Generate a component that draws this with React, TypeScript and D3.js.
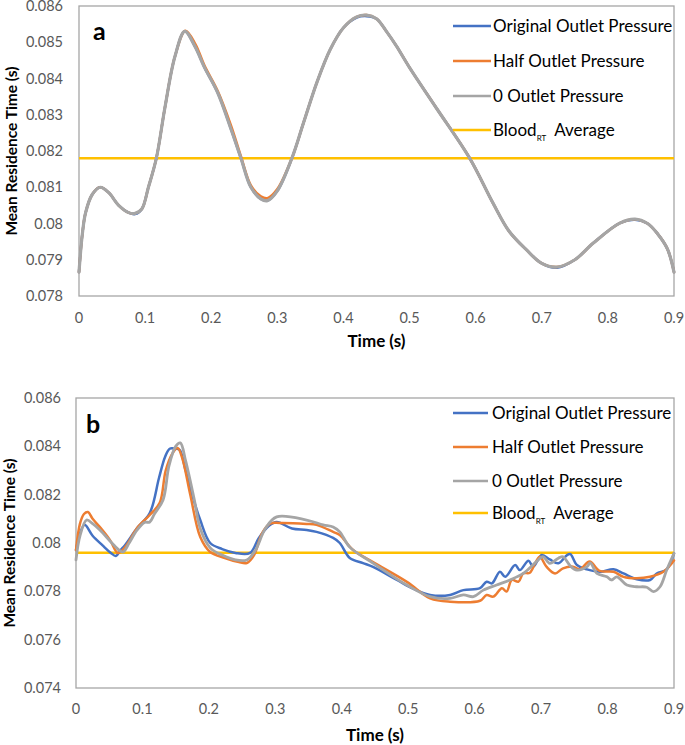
import React from 'react';
import * as d3 from 'd3';

type Pt = [number, number];

const xTicks = [0, 0.1, 0.2, 0.3, 0.4, 0.5, 0.6, 0.7, 0.8, 0.9];
const yTicksA = [0.078, 0.079, 0.08, 0.081, 0.082, 0.083, 0.084, 0.085, 0.086];
const yTicksB = [0.074, 0.076, 0.078, 0.08, 0.082, 0.084, 0.086];
const seriesNames = ['Original Outlet Pressure', 'Half Outlet Pressure', '0 Outlet Pressure'];
const seriesColors = ['#4472C4', '#ED7D31', '#A5A5A5'];
const avgName = 'Blood';
const avgSub = 'RT';
const avgSuffix = 'Average';
const avgColor = '#FFC000';
const avgA = 0.0818;
const avgB = 0.0796;

// Panel a (three nearly identical curves)
const aZero: Pt[] = [
  [0, 0.07866], [0.005, 0.0797], [0.01, 0.0803], [0.02, 0.0808], [0.032, 0.081], [0.045, 0.08085],
  [0.06, 0.0805], [0.075, 0.0803], [0.085, 0.08028], [0.095, 0.0804], [0.105, 0.081], [0.117, 0.0818],
  [0.13, 0.0832], [0.145, 0.0846], [0.16, 0.0853], [0.175, 0.0849], [0.19, 0.0843], [0.21, 0.0836],
  [0.23, 0.0826], [0.245, 0.0818], [0.26, 0.081], [0.275, 0.08068], [0.285, 0.08063], [0.3, 0.0809],
  [0.322, 0.0818], [0.34, 0.0828], [0.36, 0.0839], [0.38, 0.0848], [0.4, 0.0854], [0.42, 0.0857],
  [0.435, 0.08575], [0.45, 0.08565], [0.465, 0.0853], [0.48, 0.0849], [0.5, 0.0843], [0.54, 0.0832],
  [0.591, 0.0818], [0.626, 0.08057], [0.65, 0.0798], [0.677, 0.07927], [0.7, 0.0789], [0.723, 0.0788],
  [0.75, 0.079], [0.778, 0.07946], [0.818, 0.08001], [0.841, 0.08012], [0.86, 0.08], [0.875, 0.07972],
  [0.89, 0.0793], [0.9, 0.07866],
];
const aHalf: Pt[] = [
  [0, 0.07866], [0.005, 0.0797], [0.01, 0.0803], [0.02, 0.0808], [0.032, 0.081], [0.045, 0.08085],
  [0.06, 0.0805], [0.075, 0.0803], [0.085, 0.08028], [0.095, 0.0804], [0.105, 0.081], [0.117, 0.0818],
  [0.13, 0.0832], [0.145, 0.0846], [0.161, 0.08532], [0.176, 0.08495], [0.19, 0.08435], [0.21, 0.08365],
  [0.23, 0.0827], [0.245, 0.08185], [0.26, 0.08105], [0.275, 0.08075], [0.285, 0.0807], [0.3, 0.08095],
  [0.322, 0.0818], [0.34, 0.0828], [0.36, 0.0839], [0.38, 0.0848], [0.4, 0.0854], [0.42, 0.0857],
  [0.435, 0.08575], [0.45, 0.08565], [0.465, 0.0853], [0.48, 0.0849], [0.5, 0.0843], [0.54, 0.0832],
  [0.591, 0.0818], [0.626, 0.08057], [0.65, 0.0798], [0.677, 0.07927], [0.7, 0.0789], [0.723, 0.0788],
  [0.75, 0.079], [0.778, 0.07946], [0.818, 0.08001], [0.841, 0.08012], [0.86, 0.08], [0.875, 0.07972],
  [0.89, 0.0793], [0.9, 0.07866],
];
const aOriginal: Pt[] = [
  [0, 0.07866], [0.005, 0.0797], [0.01, 0.0803], [0.02, 0.0808], [0.032, 0.081], [0.045, 0.08085],
  [0.06, 0.0805], [0.075, 0.0803], [0.085, 0.08026], [0.095, 0.0804], [0.105, 0.081], [0.117, 0.0818],
  [0.13, 0.0832], [0.145, 0.0846], [0.16, 0.0853], [0.175, 0.0849], [0.19, 0.0843], [0.21, 0.0836],
  [0.23, 0.0826], [0.245, 0.0818], [0.26, 0.081], [0.275, 0.08068], [0.285, 0.08063], [0.3, 0.0809],
  [0.322, 0.0818], [0.34, 0.0828], [0.36, 0.0839], [0.38, 0.0848], [0.4, 0.0854], [0.42, 0.08568],
  [0.435, 0.08572], [0.45, 0.08565], [0.465, 0.0853], [0.48, 0.0849], [0.5, 0.0843], [0.54, 0.0832],
  [0.591, 0.0818], [0.626, 0.08057], [0.65, 0.0798], [0.677, 0.07927], [0.7, 0.0789], [0.723, 0.07878],
  [0.75, 0.079], [0.778, 0.07946], [0.818, 0.08001], [0.841, 0.0801], [0.86, 0.08], [0.875, 0.07972],
  [0.89, 0.0793], [0.9, 0.07866],
];

// Panel b
const bOriginal: Pt[] = [
  [0, 0.07971], [0.006, 0.0804], [0.013, 0.08075], [0.025, 0.0803], [0.04, 0.0799], [0.052, 0.0796],
  [0.06, 0.07946], [0.067, 0.0797], [0.074, 0.07992], [0.092, 0.08062], [0.111, 0.08124], [0.125, 0.0827],
  [0.134, 0.08356], [0.141, 0.0839], [0.15, 0.0839], [0.156, 0.08385], [0.165, 0.083], [0.178, 0.0817],
  [0.187, 0.08095], [0.202, 0.08], [0.22, 0.07975], [0.24, 0.07959], [0.262, 0.07959], [0.275, 0.0802],
  [0.29, 0.0807], [0.302, 0.08087], [0.325, 0.0806], [0.347, 0.08054], [0.362, 0.08046], [0.387, 0.08021],
  [0.397, 0.08], [0.412, 0.07938], [0.432, 0.07917], [0.447, 0.07901], [0.483, 0.07847], [0.508, 0.0781],
  [0.533, 0.07785], [0.563, 0.07785], [0.583, 0.07805], [0.608, 0.07813], [0.618, 0.0784], [0.626, 0.07833],
  [0.638, 0.07881], [0.646, 0.0786], [0.661, 0.07909], [0.668, 0.07888], [0.681, 0.07927], [0.688, 0.07902],
  [0.701, 0.0795], [0.713, 0.07932], [0.726, 0.07916], [0.739, 0.0795], [0.744, 0.07954], [0.754, 0.07909],
  [0.769, 0.07891], [0.789, 0.07881], [0.809, 0.07891], [0.824, 0.07874], [0.844, 0.0785], [0.864, 0.07847],
  [0.874, 0.07874], [0.889, 0.07891], [0.9, 0.07957],
];
const bHalf: Pt[] = [
  [0, 0.0797], [0.006, 0.0808], [0.012, 0.0812], [0.018, 0.08128], [0.025, 0.081], [0.036, 0.08066],
  [0.051, 0.08013], [0.063, 0.07959], [0.074, 0.07983], [0.092, 0.08062], [0.111, 0.08116], [0.126, 0.08166],
  [0.135, 0.083], [0.145, 0.0837], [0.153, 0.08393], [0.16, 0.0835], [0.172, 0.082], [0.187, 0.08025],
  [0.202, 0.07963], [0.224, 0.07938], [0.245, 0.07921], [0.257, 0.07917], [0.268, 0.0795], [0.28, 0.0804],
  [0.292, 0.0808], [0.307, 0.08083], [0.347, 0.08079], [0.362, 0.08075], [0.387, 0.08046], [0.397, 0.08033],
  [0.417, 0.07971], [0.447, 0.07921], [0.498, 0.07839], [0.533, 0.07771], [0.563, 0.07757], [0.608, 0.07761],
  [0.618, 0.07785], [0.628, 0.07778], [0.641, 0.07813], [0.648, 0.07799], [0.656, 0.07847], [0.666, 0.0784],
  [0.673, 0.07874], [0.683, 0.07877], [0.691, 0.07916], [0.698, 0.07943], [0.708, 0.07902], [0.721, 0.07874],
  [0.733, 0.07895], [0.748, 0.07902], [0.758, 0.07891], [0.773, 0.07923], [0.788, 0.07885], [0.809, 0.07881],
  [0.824, 0.0786], [0.844, 0.07854], [0.864, 0.0786], [0.884, 0.07881], [0.9, 0.07928],
];
const bZero: Pt[] = [
  [0, 0.0793], [0.006, 0.0803], [0.016, 0.08095], [0.025, 0.0808], [0.036, 0.08054], [0.054, 0.08],
  [0.065, 0.0797], [0.071, 0.07963], [0.08, 0.08], [0.092, 0.08054], [0.103, 0.08085], [0.111, 0.08087],
  [0.118, 0.0812], [0.131, 0.08178], [0.14, 0.0832], [0.15, 0.084], [0.157, 0.08414], [0.165, 0.0834],
  [0.178, 0.0818], [0.187, 0.0806], [0.202, 0.0798], [0.22, 0.0795], [0.24, 0.0793], [0.257, 0.0793],
  [0.27, 0.0797], [0.285, 0.0806], [0.302, 0.08108], [0.347, 0.08095], [0.372, 0.08075], [0.387, 0.08066],
  [0.397, 0.08046], [0.412, 0.07983], [0.447, 0.07917], [0.498, 0.07826], [0.533, 0.07778], [0.563, 0.07771],
  [0.583, 0.07785], [0.598, 0.07778], [0.613, 0.07805], [0.633, 0.07826], [0.653, 0.07847], [0.673, 0.07874],
  [0.693, 0.07923], [0.703, 0.07943], [0.713, 0.07916], [0.726, 0.07937], [0.733, 0.07943], [0.744, 0.07905],
  [0.754, 0.07888], [0.769, 0.07902], [0.774, 0.07918], [0.784, 0.07874], [0.799, 0.0786], [0.806, 0.07847],
  [0.814, 0.0786], [0.829, 0.07826], [0.844, 0.07819], [0.859, 0.07817], [0.869, 0.07799], [0.879, 0.07819],
  [0.889, 0.07888], [0.9, 0.07957],
];

const FONT = 'Lato, "Open Sans", sans-serif';

type PanelProps = {
  left: number; right: number; top: number; bottom: number;
  yDomain: [number, number]; yTicks: number[];
  series: Pt[][]; widths: number[]; avg: number; label: string;
  labelX: number; labelY: number;
  legendX: number; legendText: number; legendLen: number; legendRows: number[];
  xLabelY: number; xTitleY: number; yTitleX: number; yLabelRight: number;
};

function Panel(p: PanelProps) {
  const x = d3.scaleLinear().domain([0, 0.9]).range([p.left, p.right]);
  const y = d3.scaleLinear().domain(p.yDomain).range([p.bottom, p.top]);
  const line = d3.line<Pt>().x(d => x(d[0])).y(d => y(d[1])).curve(d3.curveCatmullRom.alpha(0.5));
  const fmt = (v: number) => String(+v.toFixed(3));
  return (
    <g fontFamily={FONT}>
      <rect x={p.left} y={p.top} width={p.right - p.left} height={p.bottom - p.top}
        fill="none" stroke="#a6a6a6" strokeWidth={1.3} />
      {p.yTicks.map(t => (
        <text key={'y' + t} x={p.yLabelRight} y={y(t)} dy="0.35em" textAnchor="end"
          fontSize={14.5} fill="#595959">{fmt(t)}</text>
      ))}
      {xTicks.map(t => (
        <text key={'x' + t} x={x(t)} y={p.xLabelY} dy="0.35em" textAnchor="middle"
          fontSize={14.5} fill="#595959">{String(+t.toFixed(1))}</text>
      ))}
      <text x={(p.left + p.right) / 2} y={p.xTitleY} dy="0.35em" textAnchor="middle"
        fontSize={17} fontWeight="bold" fill="#000">Time (s)</text>
      <text transform={`translate(${p.yTitleX},${(p.top + p.bottom) / 2}) rotate(-90)`}
        dy="0.35em" textAnchor="middle" fontSize={15.5} fontWeight="bold" fill="#000">Mean Residence Time (s)</text>
      <line x1={p.left} x2={p.right} y1={y(p.avg)} y2={y(p.avg)} stroke={avgColor} strokeWidth={2.5} />
      {p.series.map((s, i) => (
        <path key={i} d={line(s) || ''} fill="none" stroke={seriesColors[i]} strokeWidth={p.widths[i]}
          strokeLinejoin="round" strokeLinecap="round" />
      ))}
      <text x={p.labelX} y={p.labelY} fontSize={25} fontWeight="bold" fill="#000">{p.label}</text>
      {seriesNames.map((n, i) => (
        <g key={n}>
          <line x1={p.legendX} x2={p.legendX + p.legendLen} y1={p.legendRows[i]} y2={p.legendRows[i]}
            stroke={seriesColors[i]} strokeWidth={2.5} />
          <text x={p.legendText} y={p.legendRows[i]} dy="0.35em" fontSize={17} fill="#000">{n}</text>
        </g>
      ))}
      <line x1={p.legendX} x2={p.legendX + p.legendLen} y1={p.legendRows[3]} y2={p.legendRows[3]}
        stroke={avgColor} strokeWidth={2.5} />
      <text x={p.legendText} y={p.legendRows[3]} dy="0.35em" fontSize={17} fill="#000">
        {avgName}
        <tspan fontSize={8} dy={5}>{avgSub}</tspan>
        <tspan dy={-5} dx={8}>{avgSuffix}</tspan>
      </text>
    </g>
  );
}

export default function App() {
  return (
    <svg width={685} height={745} style={{ position: 'absolute', left: 0, top: 0, background: '#fff' }}>
      <rect width={685} height={745} fill="#fff" />
      <Panel left={79} right={674} top={6} bottom={296} yDomain={[0.078, 0.086]} yTicks={yTicksA}
        series={[aOriginal, aHalf, aZero]} widths={[2.5, 2.5, 3.2]} avg={avgA} label="a"
        labelX={93} labelY={40} legendX={453} legendText={493} legendLen={38}
        legendRows={[26, 61, 96, 130]} xLabelY={318} xTitleY={341} yTitleX={12} yLabelRight={63} />
      <Panel left={76} right={674} top={398} bottom={688} yDomain={[0.074, 0.086]} yTicks={yTicksB}
        series={[bOriginal, bHalf, bZero]} widths={[2.5, 2.5, 2.8]} avg={avgB} label="b"
        labelX={86} labelY={433} legendX={453} legendText={492} legendLen={35}
        legendRows={[413, 447, 481, 513]} xLabelY={709} xTitleY={735} yTitleX={10} yLabelRight={61} />
    </svg>
  );
}
